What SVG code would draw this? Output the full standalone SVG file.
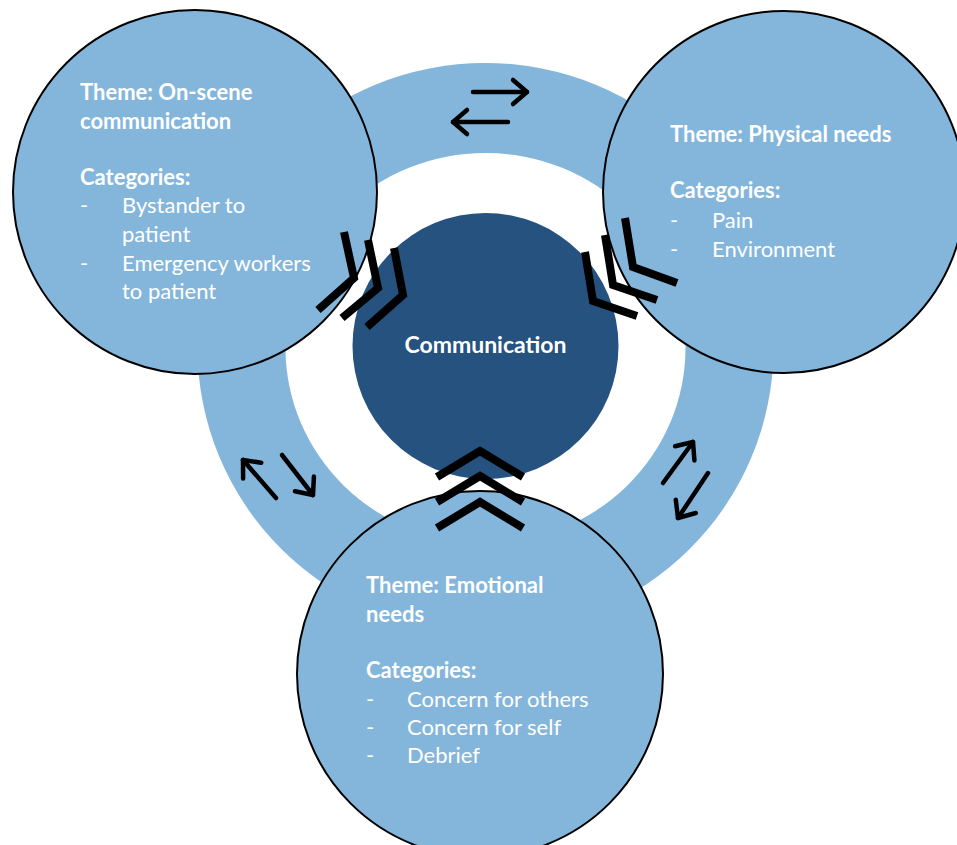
<svg xmlns="http://www.w3.org/2000/svg" width="957" height="845" viewBox="0 0 957 845">
  <defs>
    <style>
      .theme { fill: #84b6dc; stroke: #000; stroke-width: 2; }
      .ring { fill: #84b6dc; fill-rule: evenodd; }
      .core { fill: #25527e; }
      .t { font-family: Lato, "Liberation Sans", sans-serif; font-size: 22px; fill: #fff; }
      .b { font-weight: bold; }
      .big { font-size: 23px; }
      .chev { fill: none; stroke: #000; stroke-width: 8; stroke-linecap: butt; stroke-linejoin: miter; stroke-miterlimit: 10; }
      .arr { fill: none; stroke: #000; stroke-width: 4.5; stroke-linecap: round; marker-end: url(#ah); }
    </style>
    <marker id="ah" markerUnits="userSpaceOnUse" viewBox="-20 -20 40 40" markerWidth="40" markerHeight="40" refX="0" refY="0" orient="auto" overflow="visible">
      <path d="M-14,-12 L0,0 L-14,12" fill="none" stroke="#000" stroke-width="4.5" stroke-linecap="round" stroke-linejoin="round"/>
    </marker>
  </defs>
  <rect width="957" height="845" fill="#fff"/>

  <g id="ring">
    <path class="ring" d="M197.5,348 a288,285 0 1,0 576,0 a288,285 0 1,0 -576,0 Z M285.5,348 a200,195 0 1,0 400,0 a200,195 0 1,0 -400,0 Z"/>
  </g>

  <g id="communication">
    <circle class="core" cx="485.5" cy="346" r="133"/>
    <text class="t b big" x="485.5" y="353" text-anchor="middle">Communication</text>
  </g>

  <g id="on-scene">
    <circle class="theme" cx="195" cy="192" r="182"/>
    <text class="t b" x="80" y="100">Theme: On-scene</text>
    <text class="t b" x="80" y="128.5">communication</text>
    <text class="t b" x="80" y="185">Categories:</text>
    <text class="t" x="80" y="213">-</text>
    <text class="t" x="122" y="213">Bystander to</text>
    <text class="t" x="122" y="242">patient</text>
    <text class="t" x="80" y="271">-</text>
    <text class="t" x="122" y="271">Emergency workers</text>
    <text class="t" x="122" y="299">to patient</text>
  </g>

  <g id="physical">
    <circle class="theme" cx="784" cy="192" r="181"/>
    <text class="t b" x="670" y="142">Theme: Physical needs</text>
    <text class="t b" x="670" y="198">Categories:</text>
    <text class="t" x="670" y="228">-</text>
    <text class="t" x="712" y="228">Pain</text>
    <text class="t" x="670" y="257">-</text>
    <text class="t" x="712" y="257">Environment</text>
  </g>

  <g id="emotional">
    <circle class="theme" cx="480" cy="674" r="183"/>
    <text class="t b" x="366" y="593">Theme: Emotional</text>
    <text class="t b" x="366" y="622">needs</text>
    <text class="t b" x="366" y="678">Categories:</text>
    <text class="t" x="366" y="707">-</text>
    <text class="t" x="407" y="707">Concern for others</text>
    <text class="t" x="366" y="735">-</text>
    <text class="t" x="407" y="735">Concern for self</text>
    <text class="t" x="366" y="763">-</text>
    <text class="t" x="407" y="763">Debrief</text>
  </g>

  <g id="connectors">
    <polyline class="chev" points="344,232 354,278 318,310"/>
    <polyline class="chev" points="368,240 378,288 342,318"/>
    <polyline class="chev" points="394,248 403,295 367,327"/>

    <polyline class="chev" points="585,252 593,301 637,316"/>
    <polyline class="chev" points="605,235 613,285 657,300"/>
    <polyline class="chev" points="625,218 633,267 677,283"/>

    <polyline class="chev" points="437,477 480,451 523,477"/>
    <polyline class="chev" points="437,502 480,476 523,502"/>
    <polyline class="chev" points="437,528 480,502 523,528"/>

    <line class="arr" x1="473" y1="92" x2="527" y2="92"/>
    <line class="arr" x1="508" y1="122" x2="453" y2="122"/>
    <line class="arr" x1="276" y1="498" x2="243" y2="460"/>
    <line class="arr" x1="282" y1="455" x2="313" y2="495"/>
    <line class="arr" x1="663" y1="483" x2="693" y2="442"/>
    <line class="arr" x1="708" y1="473" x2="678" y2="518"/>
  </g>
</svg>
